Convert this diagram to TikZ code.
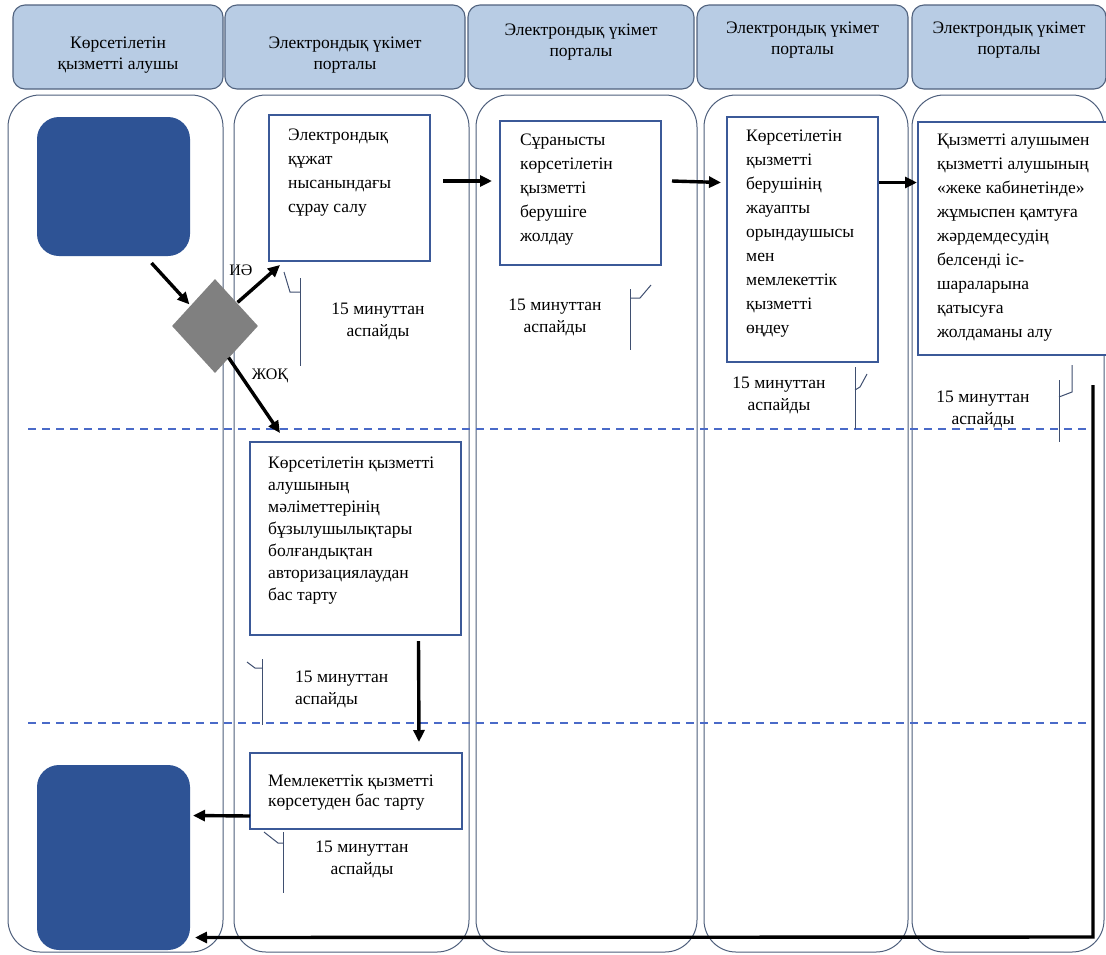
\documentclass[tikz,border=0pt]{standalone}
\usepackage{fontspec}
\setmainfont{Liberation Serif}
\usetikzlibrary{shapes.geometric,arrows.meta}
\definecolor{hdrfill}{HTML}{B8CCE4}
\definecolor{hdrline}{HTML}{50627E}
\definecolor{laneline}{HTML}{4E5F7C}
\definecolor{boxline}{HTML}{3B5998}
\definecolor{darkfill}{HTML}{2E5395}
\definecolor{diagray}{HTML}{808080}
\definecolor{dashblue}{HTML}{4A6AC8}
\definecolor{noteline}{HTML}{3F4F70}
\begin{document}
\begin{tikzpicture}[x=1pt,y=-1pt,
  hdr/.style={draw=hdrline, fill=hdrfill, line width=1.1pt, rounded corners=12pt, inner sep=0pt, outer sep=0pt},
  lane/.style={draw=laneline, line width=1pt, rounded corners=32pt, inner sep=0pt, outer sep=0pt},
  procbox/.style={draw=boxline, line width=2.2pt, fill=white, inner sep=0pt, outer sep=0pt},
  endbox/.style={fill=darkfill, rounded corners=22pt, inner sep=0pt, outer sep=0pt},
  arr/.style={-{Triangle[length=12pt,width=11pt]}, line width=3.4pt},
  sepline/.style={draw=dashblue, dash pattern=on 8pt off 6pt, line width=1.2pt},
  notebar/.style={draw=noteline, line width=1pt},
  hdrtxt/.style={font=\fontsize{17.5}{21}\selectfont, align=center, inner sep=0pt, anchor=north},
  boxtxt/.style={font=\fontsize{17.5}{24}\selectfont, align=left, inner sep=0pt, anchor=north west},
  notetxt/.style={font=\fontsize{17.5}{22}\selectfont, align=center, inner sep=0pt, anchor=north},
  lbl/.style={font=\fontsize{16}{18}\selectfont, inner sep=0pt}
]
\useasboundingbox (0,0) rectangle (1106,954);
\fill[white] (0,0) rectangle (1106,954);

% headers
\node[hdr, minimum width=210pt, minimum height=84pt] (h1) at (118,47) {};
\node[hdr, minimum width=240pt, minimum height=84pt] (h2) at (345,47) {};
\node[hdr, minimum width=226pt, minimum height=84pt] (h3) at (581,47) {};
\node[hdr, minimum width=211pt, minimum height=84pt] (h4) at (802.5,47) {};
\node[hdr, minimum width=194pt, minimum height=84pt] (h5) at (1009,47) {};
\node[hdrtxt] (h1t) at (118,37) {Көрсетілетін\\қызметті алушы};
\node[hdrtxt] (h2t) at (345,37) {Электрондық үкімет\\порталы};
\node[hdrtxt] (h3t) at (581,24) {Электрондық үкімет\\порталы};
\node[hdrtxt] (h4t) at (802.5,22) {Электрондық үкімет\\порталы};
\node[hdrtxt] (h5t) at (1009,22) {Электрондық үкімет\\порталы};

% lanes
\node[lane, minimum width=215pt, minimum height=857pt] (l1) at (115.5,523.5) {};
\node[lane, minimum width=235pt, minimum height=857pt] (l2) at (351.5,523.5) {};
\node[lane, minimum width=221pt, minimum height=857pt] (l3) at (586.5,523.5) {};
\node[lane, minimum width=204pt, minimum height=857pt] (l4) at (806,523.5) {};
\node[lane, minimum width=192pt, minimum height=857pt] (l5) at (1008,523.5) {};

% dashed separators
\coordinate (s1a) at (28,429);
\coordinate (s1b) at (1093,429);
\coordinate (s2a) at (28,723);
\coordinate (s2b) at (1093,723);
\draw[sepline] (s1a) -- (s1b);
\draw[sepline] (s2a) -- (s2b);

% start / end
\node[endbox, minimum width=153pt, minimum height=139pt] (st) at (113.5,186.5) {};
\node[endbox, minimum width=153pt, minimum height=185pt] (en) at (113.5,857.5) {};

% decision
\node[diamond, fill=diagray, inner sep=0pt, minimum width=86pt, minimum height=94pt] (dec) at (215,326) {};

% process boxes
\node[procbox, minimum width=161pt, minimum height=146pt] (b1) at (349.5,188) {};
\node[boxtxt] (b1t) at (288,129) {Электрондық\\құжат\\нысанындағы\\сұрау салу};

\node[procbox, minimum width=161pt, minimum height=144pt] (b2) at (580.5,193) {};
\node[boxtxt] (b2t) at (520,134) {Сұранысты\\көрсетілетін\\қызметті\\берушіге\\жолдау};

\node[procbox, minimum width=151pt, minimum height=245pt] (b3) at (802.5,239.5) {};
\node[boxtxt] (b3t) at (746,130) {Көрсетілетін\\қызметті\\берушінің\\жауапты\\орындаушысы\\мен\\мемлекеттік\\қызметті\\өңдеу};

\node[procbox, minimum width=190pt, minimum height=233pt] (b4) at (1013,238.5) {};
\node[boxtxt] (b4t) at (937,134) {Қызметті алушымен\\қызметті алушының\\«жеке кабинетінде»\\жұмыспен қамтуға\\жәрдемдесудің\\белсенді іс-\\шараларына\\қатысуға\\жолдаманы алу};

\node[procbox, minimum width=211pt, minimum height=193pt] (b5) at (355.5,538.5) {};
\node[boxtxt, font=\fontsize{17.5}{22}\selectfont] (b5t) at (268,457) {Көрсетілетін қызметті\\алушының\\мәліметтерінің\\бұзылушылықтары\\болғандықтан\\авторизациялаудан\\бас тарту};

\node[procbox, minimum width=212pt, minimum height=76pt] (b6) at (356,791) {};
\node[boxtxt, font=\fontsize{17.5}{20}\selectfont] (b6t) at (268,775) {Мемлекеттік қызметті\\көрсетуден бас тарту};

% decision labels
\node[lbl] (yes) at (241,270) {ИӘ};
\node[lbl] (no) at (270,376) {ЖОҚ};

% arrows
\draw[arr] ([shift={(38,7)}]st.south) -- ([shift={(-4,2)}]dec.north west);
\draw[arr] ([shift={(1,0)}]dec.north east) -- ([shift={(11,4)}]b1.south west);
\draw[arr] ([shift={(-8,8)}]dec.south east) -- ([shift={(30,-9)}]b5.north west);
\draw[arr] ([shift={(13,-7)}]b1.east) -- ([shift={(-8,-12)}]b2.west);
\draw[arr] ([shift={(11,-12)}]b2.east) -- ([shift={(-6,-57)}]b3.west);
\draw[arr] ([shift={(1,-57)}]b3.east) -- ([shift={(-1,-56)}]b4.west);
\draw[arr] ([shift={(63,6)}]b5.south) -- ([shift={(63,-11)}]b6.north);
\draw[arr] ([shift={(0,25)}]b6.west) -- ([shift={(3,-42)}]en.east);
\coordinate (ret) at (1093,385);
\draw[arr] (ret) -- (1093,937) -- ([shift={(5,80)}]en.east);

% timing notes
\draw[notebar] (300,278) -- (300,366);
\draw[notebar] (300,292) -- (290,292) -- (284,272);
\node[notetxt] (n1) at (378,303) {15 минуттан\\аспайды};

\draw[notebar] (630,289) -- (630,350);
\draw[notebar] (630,298) -- (640,298) -- (651,285);
\node[notetxt] (n2) at (555,299) {15 минуттан\\аспайды};

\draw[notebar] (855,367) -- (855,429);
\draw[notebar] (855,390) -- (860,387) -- (867,374);
\node[notetxt] (n3) at (779,377) {15 минуттан\\аспайды};

\draw[notebar] (1059,380) -- (1059,442);
\draw[notebar] (1059,397) -- (1072,392) -- (1072,365);
\node[notetxt] (n4) at (983,391) {15 минуттан\\аспайды};

\draw[notebar] (262,659) -- (262,725);
\draw[notebar] (262,668) -- (255,668) -- (247,662);
\node[notetxt, align=left, anchor=north west] (n5) at (295,671) {15 минуттан\\аспайды};

\draw[notebar] (283,832) -- (283,893);
\draw[notebar] (283,843) -- (278,843) -- (264,832);
\node[notetxt] (n6) at (362,841) {15 минуттан\\аспайды};
\end{tikzpicture}
\end{document}
